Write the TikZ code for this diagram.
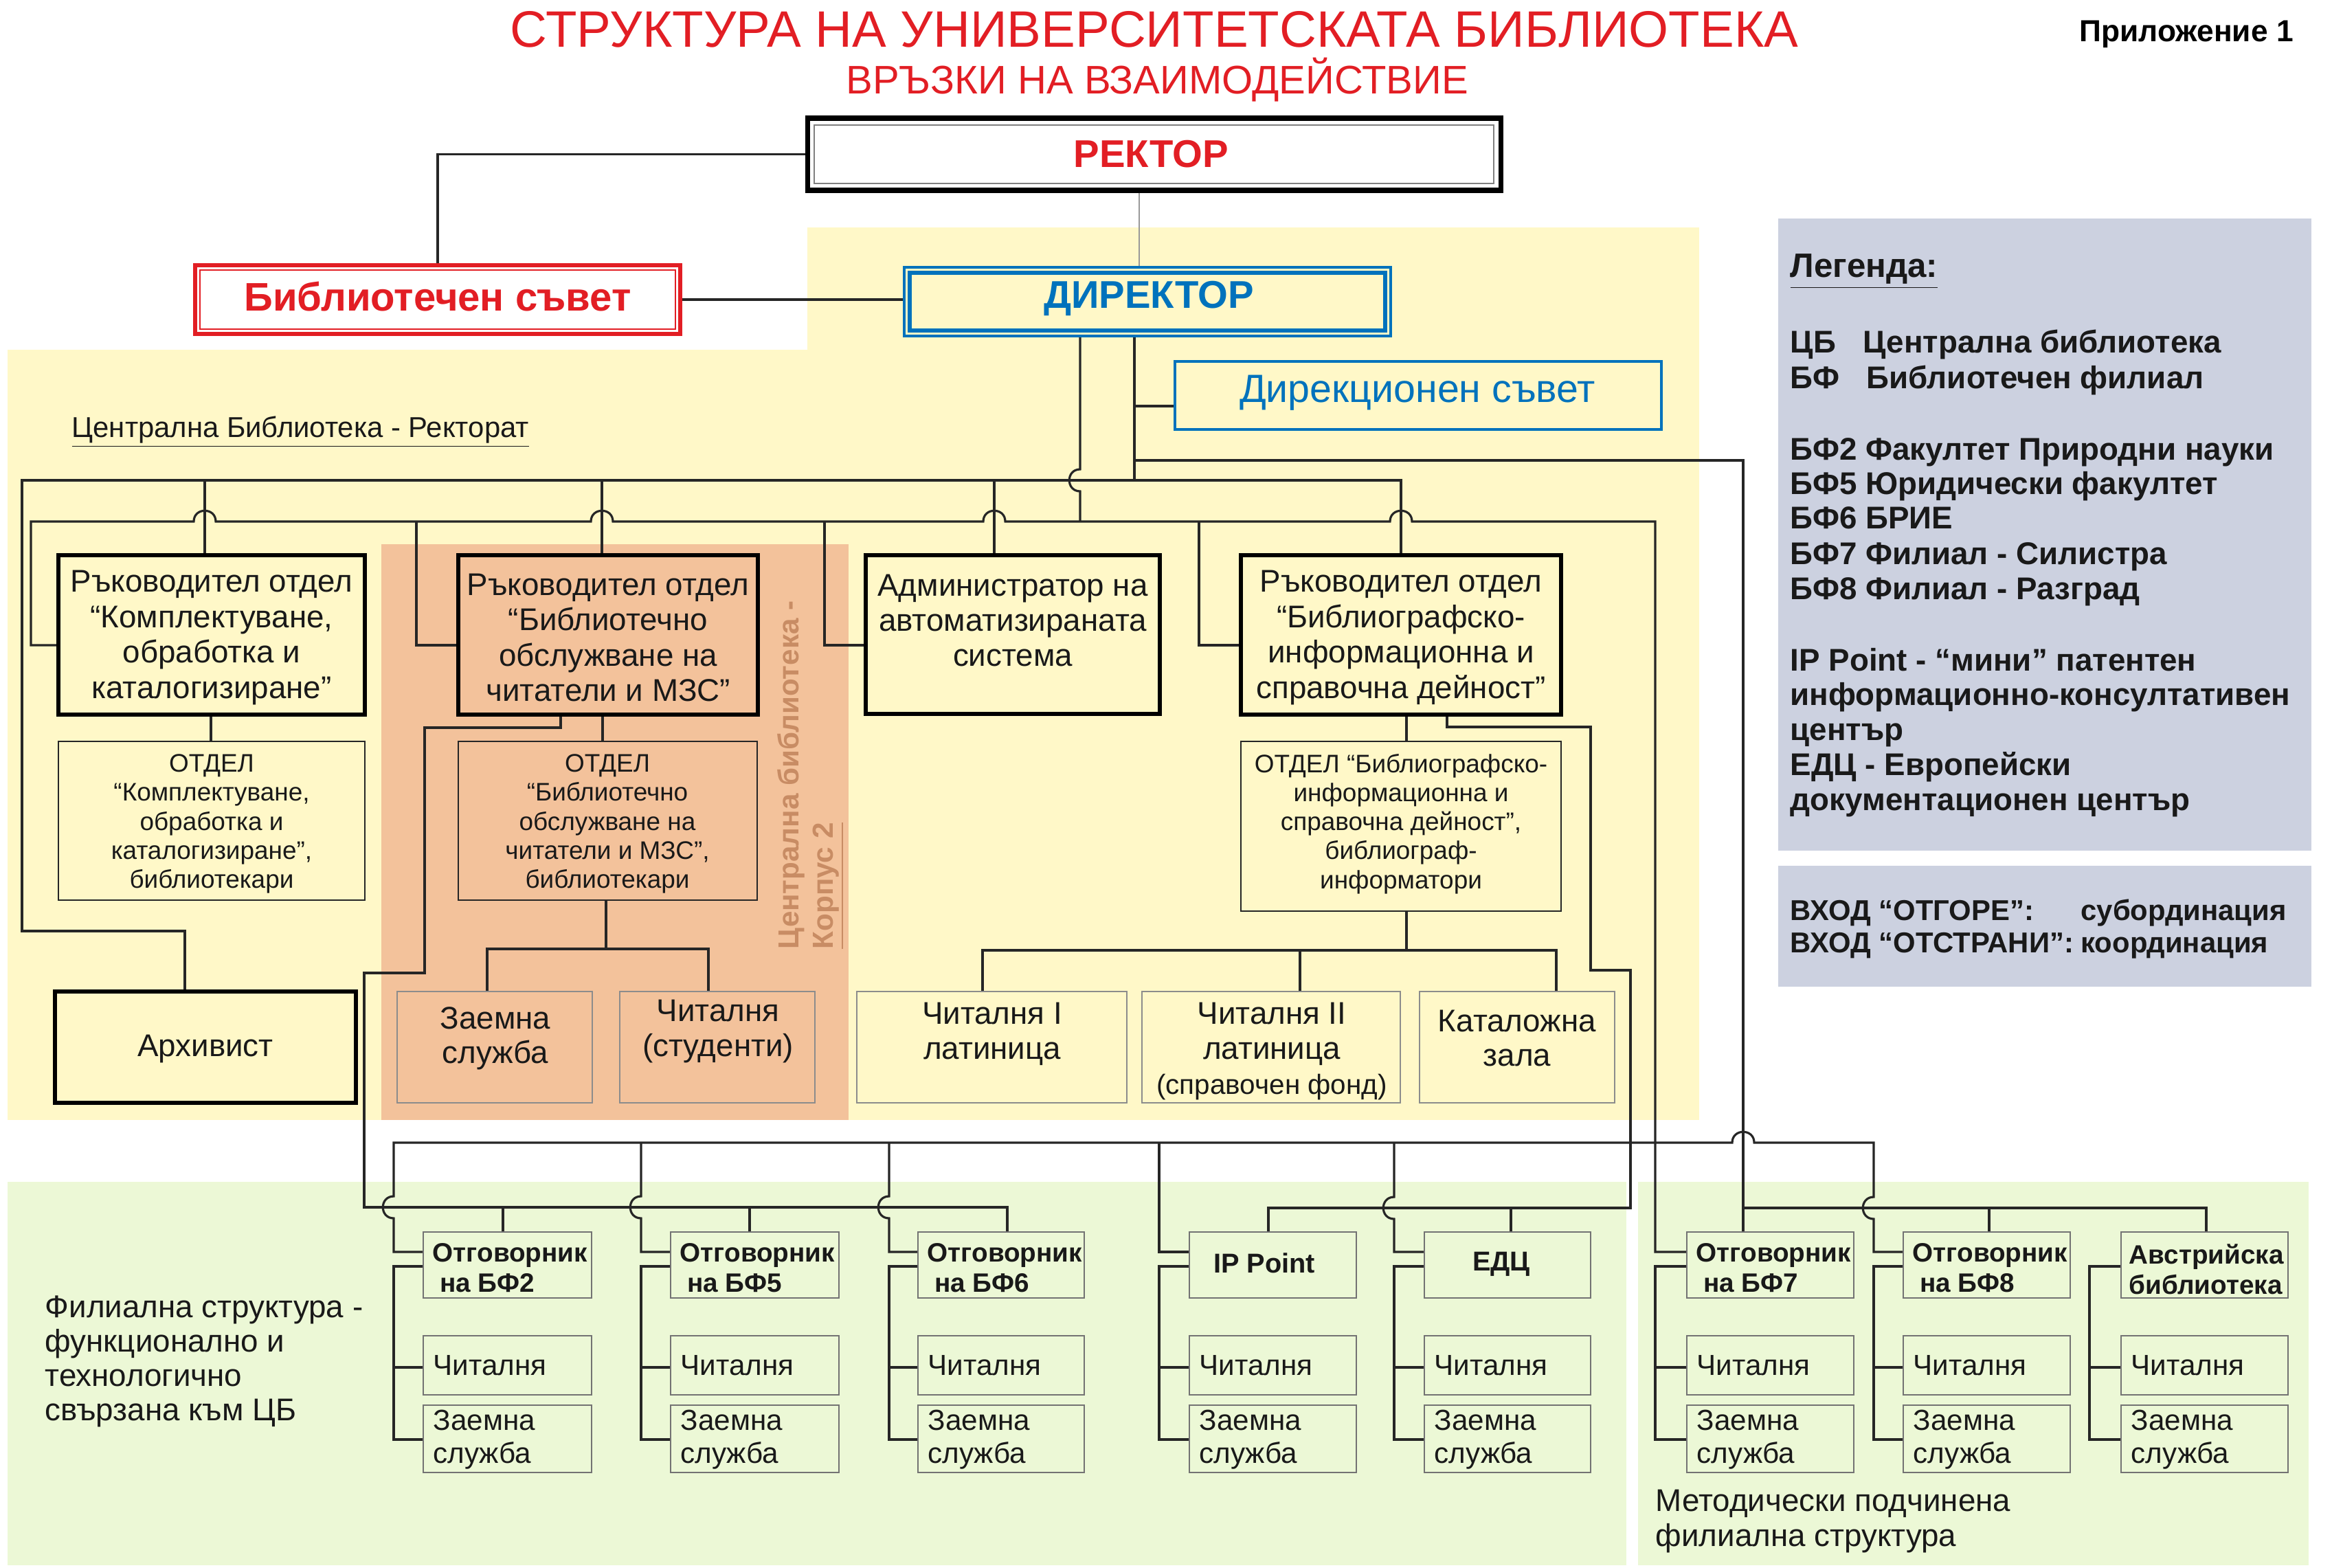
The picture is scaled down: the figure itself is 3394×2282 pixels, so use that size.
\documentclass[tikz,border=0pt]{standalone}
\usepackage{fontspec}
\setmainfont{Liberation Sans}
\usetikzlibrary{fit}
\newcommand\fs[2]{\fontsize{#1pt}{#2pt}\selectfont}
\definecolor{ylw}{RGB}{255,248,200}
\definecolor{org}{RGB}{243,194,155}
\definecolor{grn}{RGB}{236,248,214}
\definecolor{leg}{RGB}{204,209,224}
\definecolor{rd}{RGB}{226,30,36}
\definecolor{bl}{RGB}{0,114,188}
\definecolor{brn}{RGB}{200,140,100}
\begin{document}
\begin{tikzpicture}[x=0.01cm,y=-0.01cm,line join=miter,
  hb/.style={draw=black,line width=1.8pt,inner sep=0pt},
  tb/.style={draw=black!85,line width=0.7pt,inner sep=0pt},
  gb/.style={draw=black!45,line width=0.6pt,inner sep=0pt},
  bb/.style={draw=black!55,line width=0.7pt,inner sep=0pt},
  conn/.style={draw=black!85,line width=0.9pt},
  tx/.style={inner sep=0pt,align=center,text=black!90},
  lg/.style={inner sep=0pt,anchor=base west,font=\bfseries\fs{13}{14.5},text=black!90},
]
\useasboundingbox (0,0) rectangle (3394,2282);
% backgrounds
\fill[ylw] (1175,331) rectangle (2473,511);
\fill[ylw] (11,509) rectangle (2473,1630);
\fill[org] (555,792) rectangle (1235,1630);
\fill[grn] (11,1720) rectangle (2367,2278);
\fill[grn] (2384,1720) rectangle (3360,2278);
\fill[leg] (2588,318) rectangle (3364,1238);
\fill[leg] (2588,1260) rectangle (3364,1436);

% titles
\node[inner sep=0pt,font=\fs{21.2}{24},text=rd] (title) at (1680,43) {СТРУКТУРА НА УНИВЕРСИТЕТСКАТА БИБЛИОТЕКА};
\node[inner sep=0pt,font=\fs{16.5}{19},text=rd] (subtitle) at (1684,116) {ВРЪЗКИ НА ВЗАИМОДЕЙСТВИЕ};
\node[inner sep=0pt,font=\bfseries\fs{12.6}{14}] (appx) at (3182,50) {Приложение 1};

% top boxes
\node[draw=black,line width=2pt,fill=white,inner sep=0pt,fit={(1175,172) (2184,277)}] (rektor) {};
\draw[black!50,line width=0.5pt] (1185,182) rectangle (2174,267);
\node[inner sep=0pt,text=rd,font=\bfseries\fs{16}{18}] (rektor-t) at (1675,224) {РЕКТОР};

\node[draw=rd,line width=1.6pt,fill=white,inner sep=0pt,fit={(284,386) (990,486)}] (bsuvet) {};
\draw[rd,line width=0.5pt] (291,393) rectangle (983,479);
\node[inner sep=0pt,text=rd,font=\bfseries\fs{16.5}{18}] (bsuvet-t) at (637,432) {Библиотечен съвет};

\node[draw=bl,line width=1.2pt,inner sep=0pt,fit={(1316,389) (2024,489)}] (dir) {};
\draw[bl,line width=1.6pt] (1324,397) rectangle (2016,481);
\node[inner sep=0pt,text=bl,font=\bfseries\fs{16}{18}] (dir-t) at (1672,434) {ДИРЕКТОР};

\node[draw=bl,line width=1.2pt,inner sep=0pt,fit={(1710,526) (2418,625)}] (dsuvet) {};
\node[inner sep=0pt,text=bl,font=\fs{16.3}{18}] (dsuvet-t) at (2063,572) {Дирекционен съвет};

% section labels
\node[inner sep=0pt,anchor=base west,font=\fs{11.9}{14},text=black!90] (rektorat) at (104,636) {\underline{Централна Библиотека - Ректорат}};
\node[inner sep=0pt,rotate=90,anchor=west,align=left,font=\bfseries\fs{12}{14},text=brn] (korpus) at (1180,1382) {Централна библиотека -\\\underline{Корпус 2}};

% middle boxes
\node[hb,fit={(85,808) (531,1040)}] (komp) {};
\node[tb,fit={(85,1079) (531,1310)}] (kompo) {};
\node[hb,fit={(80,1443) (518,1605)}] (archiv) {};
\node[hb,fit={(667,808) (1103,1040)}] (bobs) {};
\node[tb,fit={(667,1079) (1102,1310)}] (bobso) {};
\node[gb,fit={(578,1443) (862,1605)}] (zaemC) {};
\node[gb,fit={(902,1443) (1186,1605)}] (chitC) {};
\node[hb,fit={(1260,808) (1688,1039)}] (adm) {};
\node[hb,fit={(1806,808) (2272,1040)}] (bibl) {};
\node[tb,fit={(1806,1079) (2272,1326)}] (biblo) {};
\node[gb,fit={(1247,1443) (1640,1605)}] (ch1) {};
\node[gb,fit={(1662,1443) (2038,1605)}] (ch2) {};
\node[gb,fit={(2066,1443) (2350,1605)}] (kat) {};

\node[tx,font=\fs{13}{14.6}] (komp-t) at (308,928) {Ръководител отдел\\“Комплектуване,\\обработка и\\каталогизиране”};
\node[tx,font=\fs{13}{14.6}] (bobs-t) at (885,928) {Ръководител отдел\\“Библиотечно\\обслужване на\\читатели и МЗС”};
\node[tx,font=\fs{13}{14.6}] (adm-t) at (1474,903) {Администратор на\\автоматизираната\\система};
\node[tx,font=\fs{13}{14.6}] (bibl-t) at (2039,928) {Ръководител отдел\\“Библиографско-\\информационна и\\справочна дейност”};
\node[tx,font=\fs{10.5}{12}] (kompo-t) at (308,1199) {ОТДЕЛ\\“Комплектуване,\\обработка и\\каталогизиране”,\\библиотекари};
\node[tx,font=\fs{10.5}{12}] (bobso-t) at (884,1199) {ОТДЕЛ\\“Библиотечно\\обслужване на\\читатели и МЗС”,\\библиотекари};
\node[tx,font=\fs{10.5}{12}] (biblo-t) at (2039,1199) {ОТДЕЛ “Библиографско-\\информационна и\\справочна дейност”,\\библиограф-\\информатори};
\node[tx,font=\fs{13}{14.4}] (archiv-t) at (299,1527) {Архивист};
\node[tx,font=\fs{13}{14.2}] (zaemC-t) at (721,1511) {Заемна\\служба};
\node[tx,font=\fs{13}{14.6}] (chitC-t) at (1045,1501) {Читалня\\(студенти)};
\node[tx,font=\fs{13}{14.6}] (ch1-t) at (1444,1505) {Читалня I\\латиница};
\node[tx,font=\fs{13}{14.4}] (ch2-t) at (1851,1530) {Читалня II\\латиница\\{\fs{11.5}{14.2}(справочен фонд)}};
\node[tx,font=\fs{13}{14.2}] (kat-t) at (2208,1511) {Каталожна\\зала};

% bottom header boxes
\foreach \n/\xl/\xr in {b2/616/861, b5/976/1221, b6/1336/1578, ip/1731/1974, ed/2073/2315, b7/2455/2698, b8/2770/3013, au/3087/3330}{
  \node[bb,fit={(\xl,1793) (\xr,1889)}] (hd-\n) {};
}
\foreach \n/\xl/\lab in {b2/616/2, b5/976/5, b6/1336/6, b7/2455/7, b8/2770/8}{
  \node[tx,anchor=west,align=left,font=\bfseries\fs{11}{12.5}] (hdt-\n) at (\xl+13,1845) {Отговорник\\\hspace*{3pt}на БФ\lab};
}
\node[tx,font=\bfseries\fs{11.3}{13}] (hdt-ip) at (1840,1838) {IP Point};
\node[tx,font=\bfseries\fs{11.3}{13}] (hdt-ed) at (2185,1840) {ЕДЦ};
\node[tx,anchor=west,align=left,font=\bfseries\fs{11}{12.5}] (hdt-au) at (3098,1847) {Австрийска\\библиотека};

% branch sub-boxes and brackets
\foreach \n/\xl/\xr/\xb in {b2/616/861/573, b5/976/1221/933, b6/1336/1578/1294, ip/1731/1974/1687, ed/2073/2315/2029, b7/2455/2698/2409, b8/2770/3013/2727, au/3087/3330/3041}{
  \node[bb,fit={(\xl,1944) (\xr,2030)}] (ch-\n) {};
  \node[bb,fit={(\xl,2045) (\xr,2143)}] (za-\n) {};
  \node[tx,anchor=west,font=\fs{12}{13.5}] (cht-\n) at (\xl+14,1987) {Читалня};
  \node[tx,anchor=west,align=left,font=\fs{12}{13.5}] (zat-\n) at (\xl+14,2095) {Заемна\\служба};
  \draw[conn] (hd-\n.west |- 0,1843) -- (\xb,1843) -- (\xb,2095) -- (za-\n.west |- 0,2095);
  \draw[conn] (\xb,1990) -- (ch-\n.west |- 0,1990);
}

% side texts
\node[tx,anchor=west,align=left,font=\fs{13}{14.2}] (filial) at (65,1981) {Филиална структура -\\функционално и\\технологично\\свързана към ЦБ};
\node[tx,anchor=west,align=left,font=\fs{13}{14.6}] (metod) at (2409,2214) {Методически подчинена\\филиална структура};

% legend
\node[lg,font=\bfseries\fs{14}{15}] (lg0) at (2605,404) {\underline{Легенда:}};
\node[lg] (lg1a) at (2605,514) {ЦБ};
\node[lg] (lg1b) at (2711,514) {Централна библиотека};
\node[lg] (lg2a) at (2605,565) {БФ};
\node[lg] (lg2b) at (2716,565) {Библиотечен филиал};
\node[lg] (lg3) at (2605,669) {БФ2 Факултет Природни науки};
\node[lg] (lg4) at (2605,719) {БФ5 Юридически факултет};
\node[lg] (lg5) at (2605,769) {БФ6 БРИЕ};
\node[lg] (lg6) at (2605,821) {БФ7 Филиал - Силистра};
\node[lg] (lg7) at (2605,872) {БФ8 Филиал - Разград};
\node[lg] (lg8) at (2605,976) {IP Point - “мини” патентен};
\node[lg] (lg9) at (2605,1026) {информационно-консултативен};
\node[lg] (lg10) at (2605,1077) {център};
\node[lg] (lg11) at (2605,1128) {ЕДЦ - Европейски};
\node[lg] (lg12) at (2605,1179) {документационен център};
\node[lg,anchor=north west,font=\bfseries\fs{11.9}{13.3}] (lg13) at (2605,1306) {\begin{tabular}{@{}l@{\hspace{3pt}}l@{}}ВХОД “ОТГОРЕ”: & субординация\\ВХОД “ОТСТРАНИ”: & координация\end{tabular}};

% ---------------- connectors ----------------
\draw[conn] (rektor.west) -| (bsuvet.north);
\draw[conn] (bsuvet.east) -- (bsuvet.east -| dir.west);
\draw[black!40,line width=0.5pt] (1658,0 |- rektor.south) -- (1658,0 |- dir.north);

% director to bus 2 (hops over bus 1)
\draw[conn] (1572,0 |- dir.south) -- (1572,683) .. controls (1551,683) and (1551,715) .. (1572,715) -- (1572,759);
% director to bus 1, council, and methodic branches
\draw[conn] (1651,0 |- dir.south) -- (1651,699);
\draw[conn] (1651,591) -- (1651,591 -| dsuvet.west);
\draw[conn] (1651,670) -- (2537,670) -- (2537,0 |- hd-b7.north);

% bus 1 (subordination) + archivist
\draw[conn] (269,0 |- archiv.north) -- (269,1355) -- (32,1355) -- (32,699) -- (2039,699) -- (2039,0 |- bibl.north);
\draw[conn] (298,699) -- (298,0 |- komp.north);
\draw[conn] (876,699) -- (876,0 |- bobs.north);
\draw[conn] (1447,699) -- (1447,0 |- adm.north);

% bus 2 (coordination)
\draw[conn] (komp.west |- 0,939) -- (45,939) -- (45,759) -- (282,759)
  .. controls (282,738) and (314,738) .. (314,759) -- (860,759)
  .. controls (860,738) and (892,738) .. (892,759) -- (1431,759)
  .. controls (1431,738) and (1463,738) .. (1463,759) -- (2023,759)
  .. controls (2023,738) and (2055,738) .. (2055,759) -- (2409,759) -- (2409,1822) -- (hd-b7.west |- 0,1822);
\draw[conn] (606,759) -- (606,939) -- (bobs.west |- 0,939);
\draw[conn] (1200,759) -- (1200,939) -- (adm.west |- 0,939);
\draw[conn] (1745,759) -- (1745,939) -- (bibl.west |- 0,939);

% department internal connectors
\draw[conn] (307,0 |- komp.south) -- (307,0 |- kompo.north);
\draw[conn] (877,0 |- bobs.south) -- (877,0 |- bobso.north);
\draw[conn] (882,0 |- bobso.south) -- (882,1381);
\draw[conn] (709,0 |- zaemC.north) -- (709,1381) -- (1031,1381) -- (1031,0 |- chitC.north);
\draw[conn] (2047,0 |- bibl.south) -- (2047,0 |- biblo.north);
\draw[conn] (2047,0 |- biblo.south) -- (2047,1383);
\draw[conn] (1430,0 |- ch1.north) -- (1430,1383) -- (2265,1383) -- (2265,0 |- kat.north);
\draw[conn] (1892,1383) -- (1892,0 |- ch2.north);

% library service dept -> BF2, BF5, BF6 (bus 3)
\draw[conn] (816,0 |- bobs.south) -- (816,1059) -- (618,1059) -- (618,1416) -- (530,1416) -- (530,1757) -- (1466,1757) -- (1466,0 |- hd-b6.north);
\draw[conn] (732,1757) -- (732,0 |- hd-b2.north);
\draw[conn] (1091,1757) -- (1091,0 |- hd-b5.north);

% bibliographic dept -> IP Point, EDC (bus 5)
\draw[conn] (2106,0 |- bibl.south) -- (2106,1058) -- (2315,1058) -- (2315,1412) -- (2373,1412) -- (2373,1758) -- (1846,1758) -- (1846,0 |- hd-ip.north);
\draw[conn] (2199,1758) -- (2199,0 |- hd-ed.north);

% director -> BF7, BF8, Austrian (bus 6)
\draw[conn] (2537,1758) -- (3211,1758) -- (3211,0 |- hd-au.north);
\draw[conn] (2895,1758) -- (2895,0 |- hd-b8.north);

% bus 4 (coordination to branches)
\draw[conn] (hd-b2.west |- 0,1822) -- (573,1822) -- (573,1773)
  .. controls (552,1773) and (552,1741) .. (573,1741) -- (573,1663) -- (2521,1663)
  .. controls (2521,1642) and (2553,1642) .. (2553,1663) -- (2727,1663) -- (2727,1742)
  .. controls (2706,1742) and (2706,1774) .. (2727,1774) -- (2727,1822) -- (hd-b8.west |- 0,1822);
\draw[conn] (933,1663) -- (933,1741) .. controls (912,1741) and (912,1773) .. (933,1773) -- (933,1822) -- (hd-b5.west |- 0,1822);
\draw[conn] (1294,1663) -- (1294,1741) .. controls (1273,1741) and (1273,1773) .. (1294,1773) -- (1294,1822) -- (hd-b6.west |- 0,1822);
\draw[conn] (1687,1663) -- (1687,1822) -- (hd-ip.west |- 0,1822);
\draw[conn] (2029,1663) -- (2029,1742) .. controls (2008,1742) and (2008,1774) .. (2029,1774) -- (2029,1822) -- (hd-ed.west |- 0,1822);
\end{tikzpicture}
\end{document}
